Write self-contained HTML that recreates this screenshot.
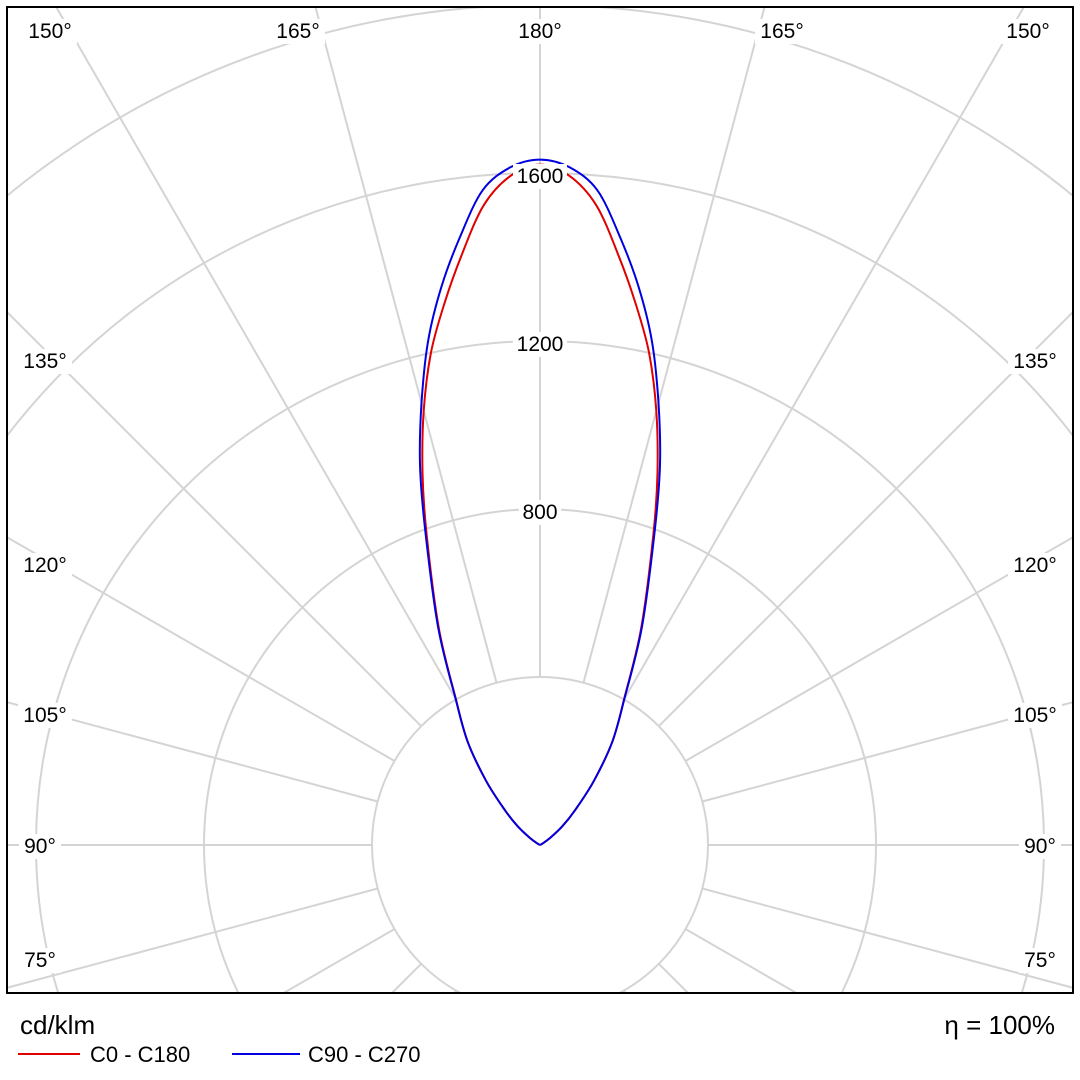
<!DOCTYPE html>
<html><head><meta charset="utf-8">
<style>
html,body{margin:0;padding:0;background:#fff;overflow:hidden;width:1080px;height:1080px;}
svg{display:block;font-family:"Liberation Sans","DejaVu Sans",sans-serif;}
</style></head>
<body>
<svg id="chart" width="1080" height="1080" viewBox="0 0 1080 1080" xmlns="http://www.w3.org/2000/svg">
<defs><clipPath id="plotclip"><rect x="7" y="7" width="1066" height="986"/></clipPath></defs>
<rect x="0" y="0" width="1080" height="1080" fill="#fff"/>
<g id="grid" clip-path="url(#plotclip)"></g>
<g id="series" clip-path="url(#plotclip)"></g>
<g id="labels"></g>
<rect x="7" y="7" width="1066" height="986" fill="none" stroke="#000" stroke-width="2"/>
<text x="20" y="1034" font-size="26" fill="#000">cd/klm</text>
<text x="1055" y="1034" font-size="26" fill="#000" text-anchor="end">η = 100%</text>
<line x1="18" y1="1054" x2="80" y2="1054" stroke="#e00000" stroke-width="2"/>
<text x="90" y="1062" font-size="22">C0 - C180</text>
<line x1="232" y1="1054" x2="300" y2="1054" stroke="#0000e0" stroke-width="2"/>
<text x="308" y="1062" font-size="22">C90 - C270</text>
</svg>
<script>
const gammas = [90,100,110,115,120,125,130,135,140,145,150,155,160,162.5,165,167.5,170,172.5,175,177.5,180];
const redValues = [0,0,0,0,8,30,70,120,200,300,400,570,790,930,1070,1200,1310,1420,1530,1595,1620];
const blueValues = [0,0,0,0,8,30,70,120,200,300,402,575,800,950,1090,1230,1350,1460,1565,1615,1632];
const ringValues = [400,800,1200,1600,2000,2400,2800];
const ringLabels = ["800","1200","1600"];
const angleTicks = [0,15,30,45,60,75,90,105,120,135,150,165,180,195,210,225,240,255,270,285,300,315,330,345];

const cx=540, cy=845, scale=0.42;
const NS="http://www.w3.org/2000/svg";
const rOf = v => v*scale;
function pt(gamma, v, side){
  const a = gamma*Math.PI/180, r=rOf(v);
  return [cx + side*r*Math.sin(a), cy + r*Math.cos(a)];
}
const grid=document.getElementById('grid');
ringValues.forEach(v=>{
  const c=document.createElementNS(NS,'circle');
  c.setAttribute('cx',cx);c.setAttribute('cy',cy);c.setAttribute('r',rOf(v));
  c.setAttribute('fill','none');c.setAttribute('stroke','#d4d4d4');c.setAttribute('stroke-width','2');
  
  
  grid.appendChild(c);
});
angleTicks.forEach(g=>{
  const a=g*Math.PI/180, r0=rOf(400), r1=1600;
  const l=document.createElementNS(NS,'line');
  l.setAttribute('x1',cx+r0*Math.sin(a));l.setAttribute('y1',cy+r0*Math.cos(a));
  l.setAttribute('x2',cx+r1*Math.sin(a));l.setAttribute('y2',cy+r1*Math.cos(a));
  l.setAttribute('stroke','#d4d4d4');l.setAttribute('stroke-width','2');
  
  
  grid.appendChild(l);
});
const labels=document.getElementById('labels');
function addText(x,y,t,name,anchor){
  const w=t.length*12+6;
  const bg=document.createElementNS(NS,'rect');
  let bx = anchor==='middle'? x-w/2 : (anchor==='end'? x-w : x-3);
  bg.setAttribute('x',bx);bg.setAttribute('y',y-19);bg.setAttribute('width',w);bg.setAttribute('height',25);
  bg.setAttribute('fill','#fff');
  
  
  labels.appendChild(bg);
  const tx=document.createElementNS(NS,'text');
  tx.setAttribute('x',x);tx.setAttribute('y',y);tx.setAttribute('font-size','21');
  tx.setAttribute('text-anchor',anchor);tx.textContent=t;
  
  
  labels.appendChild(tx);
}
const series=document.getElementById('series');
function smoothPath(pts){
  let d='M'+pts[0][0].toFixed(1)+','+pts[0][1].toFixed(1);
  for(let i=0;i<pts.length-1;i++){
    const p0=pts[Math.max(0,i-1)],p1=pts[i],p2=pts[i+1],p3=pts[Math.min(pts.length-1,i+2)];
    const c1=[p1[0]+(p2[0]-p0[0])/6,p1[1]+(p2[1]-p0[1])/6];
    const c2=[p2[0]-(p3[0]-p1[0])/6,p2[1]-(p3[1]-p1[1])/6];
    d+=' C'+c1[0].toFixed(1)+','+c1[1].toFixed(1)+' '+c2[0].toFixed(1)+','+c2[1].toFixed(1)+' '+p2[0].toFixed(1)+','+p2[1].toFixed(1);
  }
  return d;
}
function drawSeries(vals,color,name){
  const pts=[];
  let start=0;
  while(start<vals.length-1 && vals[start+1]===0) start++;
  for(let i=start;i<gammas.length;i++){pts.push(pt(gammas[i],vals[i],1));}
  for(let i=gammas.length-2;i>=start;i--){pts.push(pt(gammas[i],vals[i],-1));}
  const p=document.createElementNS(NS,'path');
  p.setAttribute('d',smoothPath(pts));
  p.setAttribute('fill','none');p.setAttribute('stroke',color);p.setAttribute('stroke-width','2');
  p.setAttribute('stroke-linejoin','round');
  
  
  series.appendChild(p);
}
drawSeries(redValues,'#e00000','series-c0-c180');
drawSeries(blueValues,'#0000e0','series-c90-c270');

ringLabels.forEach(s=>{
  const v=+s;
  addText(cx, cy-rOf(v)+10, s, 'ring-label-'+s, 'middle');
});
const degLabels=[["150°",50,38],["165°",298,38],["180°",540,38],["165°",782,38],["150°",1028,38],
 ["135°",45,368],["120°",45,572],["105°",45,722],["90°",40,853],["75°",40,967],
 ["135°",1035,368],["120°",1035,572],["105°",1035,722],["90°",1040,853],["75°",1040,967]];
degLabels.forEach((d,i)=>addText(d[1],d[2],d[0],'angle-label-'+i,'middle'));
</script>
</body></html>
